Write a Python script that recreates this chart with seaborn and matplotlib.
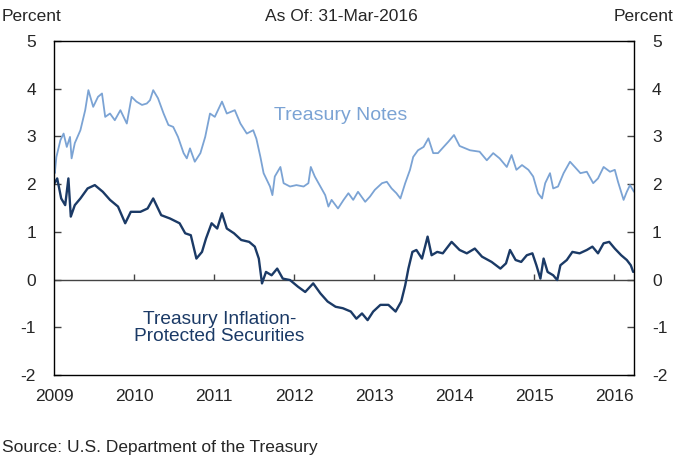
import pandas as pd
import numpy as np
import matplotlib
matplotlib.use("Agg")
import matplotlib.pyplot as plt
import seaborn as sns

# Treasury Notes (decimal year, percent)
notes_year = [2009.00, 2009.01, 2009.03, 2009.08, 2009.12, 2009.16, 2009.20, 2009.22, 2009.26,
              2009.33, 2009.39, 2009.43, 2009.49, 2009.55, 2009.60, 2009.64, 2009.70, 2009.76,
              2009.83, 2009.91, 2009.97, 2010.03, 2010.10, 2010.16, 2010.20, 2010.24, 2010.30,
              2010.37, 2010.43, 2010.49, 2010.55, 2010.62, 2010.66, 2010.70, 2010.76, 2010.83,
              2010.89, 2010.95, 2011.01, 2011.10, 2011.16, 2011.26, 2011.33, 2011.41, 2011.49,
              2011.53, 2011.58, 2011.62, 2011.64, 2011.70, 2011.73, 2011.76, 2011.83, 2011.87,
              2011.95, 2012.03, 2012.12, 2012.18, 2012.21, 2012.26, 2012.33, 2012.39, 2012.43,
              2012.47, 2012.55, 2012.62, 2012.68, 2012.74, 2012.80, 2012.89, 2012.95, 2013.01,
              2013.10, 2013.16, 2013.22, 2013.28, 2013.33, 2013.39, 2013.45, 2013.49, 2013.55,
              2013.62, 2013.68, 2013.74, 2013.80, 2013.87, 2013.93, 2014.00, 2014.07, 2014.20,
              2014.32, 2014.41, 2014.49, 2014.57, 2014.66, 2014.72, 2014.78, 2014.85, 2014.93,
              2014.99, 2015.05, 2015.10, 2015.14, 2015.20, 2015.24, 2015.30, 2015.37, 2015.45,
              2015.51, 2015.58, 2015.66, 2015.74, 2015.80, 2015.87, 2015.95, 2016.01, 2016.05,
              2016.12, 2016.16, 2016.20, 2016.25]
notes_pct = [2.44, 2.23, 2.57, 2.92, 3.06, 2.78, 2.99, 2.54, 2.86,
             3.13, 3.55, 3.97, 3.62, 3.83, 3.90, 3.41, 3.48, 3.34,
             3.55, 3.27, 3.83, 3.73, 3.66, 3.69, 3.76, 3.97, 3.80,
             3.48, 3.24, 3.20, 2.99, 2.65, 2.54, 2.75, 2.47, 2.65,
             2.99, 3.48, 3.41, 3.73, 3.48, 3.55, 3.27, 3.06, 3.13,
             2.95, 2.57, 2.23, 2.16, 1.95, 1.77, 2.16, 2.36, 2.02,
             1.95, 1.98, 1.95, 2.02, 2.36, 2.16, 1.95, 1.77, 1.53,
             1.67, 1.49, 1.67, 1.81, 1.67, 1.84, 1.63, 1.74, 1.88,
             2.02, 2.05, 1.91, 1.81, 1.70, 2.02, 2.30, 2.57, 2.71,
             2.78, 2.96, 2.65, 2.65, 2.78, 2.89, 3.03, 2.80, 2.71,
             2.68, 2.50, 2.65, 2.54, 2.36, 2.61, 2.30, 2.40, 2.30,
             2.16, 1.81, 1.70, 2.02, 2.23, 1.91, 1.95, 2.23, 2.47,
             2.36, 2.23, 2.26, 2.02, 2.12, 2.36, 2.26, 2.30, 2.05,
             1.67, 1.84, 1.98, 1.84]

# Treasury Inflation-Protected Securities
tips_year = [2009.00, 2009.04, 2009.09, 2009.14, 2009.18, 2009.21, 2009.26, 2009.33, 2009.42,
             2009.51, 2009.61, 2009.70, 2009.80, 2009.89, 2009.96, 2010.08, 2010.17, 2010.24,
             2010.34, 2010.45, 2010.57, 2010.64, 2010.71, 2010.78, 2010.85, 2010.90, 2010.97,
             2011.04, 2011.10, 2011.16, 2011.25, 2011.34, 2011.44, 2011.51, 2011.56, 2011.60,
             2011.65, 2011.72, 2011.79, 2011.86, 2011.95, 2012.05, 2012.14, 2012.24, 2012.33,
             2012.42, 2012.52, 2012.61, 2012.71, 2012.78, 2012.85, 2012.92, 2012.99, 2013.08,
             2013.18, 2013.27, 2013.34, 2013.39, 2013.43, 2013.48, 2013.53, 2013.60, 2013.67,
             2013.72, 2013.79, 2013.86, 2013.97, 2014.07, 2014.16, 2014.26, 2014.35, 2014.47,
             2014.58, 2014.65, 2014.70, 2014.77, 2014.84, 2014.91, 2014.98, 2015.03, 2015.08,
             2015.12, 2015.17, 2015.24, 2015.29, 2015.33, 2015.41, 2015.48, 2015.57, 2015.66,
             2015.73, 2015.80, 2015.87, 2015.94, 2016.01, 2016.09, 2016.16, 2016.21, 2016.24]
tips_pct = [2.00, 2.12, 1.70, 1.56, 2.12, 1.32, 1.56, 1.70, 1.91,
            1.98, 1.84, 1.67, 1.53, 1.18, 1.42, 1.42, 1.49, 1.70,
            1.35, 1.28, 1.18, 0.97, 0.93, 0.44, 0.58, 0.86, 1.18,
            1.07, 1.39, 1.07, 0.97, 0.83, 0.79, 0.69, 0.44, -0.08,
            0.16, 0.09, 0.23, 0.02, -0.01, -0.15, -0.26, -0.08, -0.29,
            -0.46, -0.57, -0.60, -0.67, -0.82, -0.71, -0.85, -0.67, -0.53,
            -0.53, -0.67, -0.46, -0.12, 0.23, 0.58, 0.62, 0.44, 0.90,
            0.51, 0.58, 0.55, 0.79, 0.62, 0.55, 0.65, 0.48, 0.37,
            0.23, 0.34, 0.62, 0.41, 0.37, 0.51, 0.55, 0.30, 0.02,
            0.44, 0.16, 0.09, -0.01, 0.30, 0.41, 0.58, 0.55, 0.62,
            0.69, 0.55, 0.76, 0.79, 0.65, 0.51, 0.41, 0.30, 0.16]

year_ticks = [2009, 2010, 2011, 2012, 2013, 2014, 2015, 2016]
pct_ticks = [-2, -1, 0, 1, 2, 3, 4, 5]

notes_color = "#7BA3D4"
tips_color = "#1B3A66"

sns.set_style("white")
plt.rcParams['font.family'] = ['Liberation Sans', 'DejaVu Sans']
plt.rcParams['font.size'] = 12.5
plt.rcParams['axes.unicode_minus'] = False

fig = plt.figure(figsize=(6.82, 4.59), dpi=100)
ax = fig.add_axes([54 / 682, 84 / 459, 580 / 682, 334 / 459])

notes_df = pd.DataFrame({'Year': notes_year, 'Percent': notes_pct})
tips_df = pd.DataFrame({'Year': tips_year, 'Percent': tips_pct})
sns.lineplot(data=notes_df, x='Year', y='Percent', color=notes_color, lw=1.3, ax=ax)
sns.lineplot(data=tips_df, x='Year', y='Percent', color=tips_color, lw=1.7, ax=ax)

ax.set_xlim(2009, 2016.25)
ax.set_ylim(-2, 5)
ax.set_xlabel('')
ax.set_ylabel('')

# zero line with small upward ticks for the years
ax.axhline(0, color='#444444', lw=1.0, zorder=1)
ax.vlines(year_ticks[1:], 0, 0.11, color='#444444', lw=1.0)

ax.set_xticks(year_ticks)
ax.tick_params(axis='x', length=0, pad=10)
ax.set_yticks(pct_ticks)
ax.tick_params(axis='y', direction='in', length=5, width=1, color='#444444',
               pad=13, left=True, right=True, labelleft=True, labelright=True)

for s in ax.spines.values():
    s.set_color('black')
    s.set_linewidth(1.0)

ax.text(2012.58, 3.43, 'Treasury Notes', color=notes_color, fontsize=14, ha='center', va='center')
ax.text(2011.07, -1.02, 'Treasury Inflation-\nProtected Securities', color=tips_color,
        fontsize=13.8, ha='center', va='center', linespacing=1.0)

fig.text(0.003, 0.965, 'Percent', ha='left', va='center')
fig.text(0.987, 0.965, 'Percent', ha='right', va='center')
fig.text(0.5, 0.965, 'As Of: 31-Mar-2016', ha='center', va='center')
fig.text(0.003, 0.024, 'Source: U.S. Department of the Treasury', ha='left', va='center')

fig.savefig('out.png', dpi=100)
